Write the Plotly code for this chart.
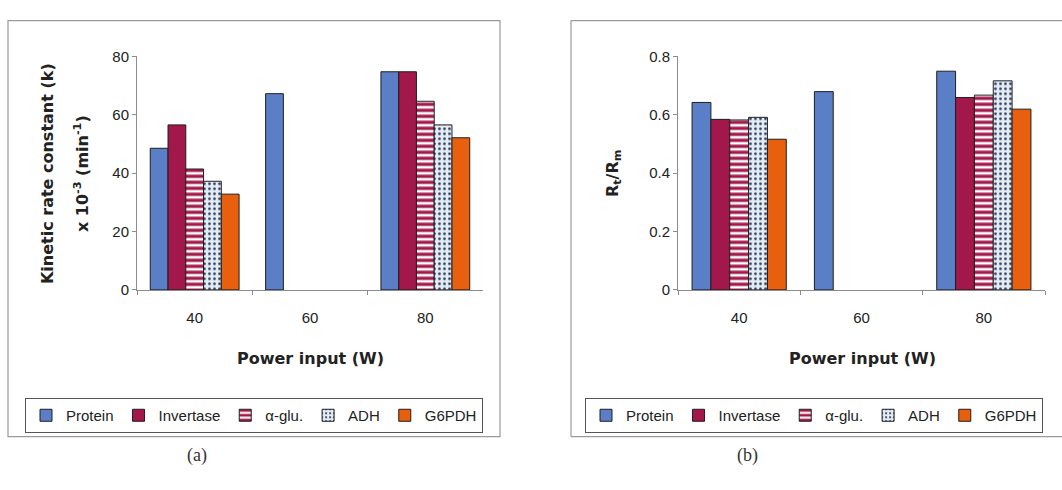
import plotly.graph_objects as go

# Power input categories (W)
power = ["40", "60", "80"]
series_names = ["Protein", "Invertase", "α-glu.", "ADH", "G6PDH"]

# (a) kinetic rate constant k x 10^-3 (min^-1)
k_protein = [48.5, 67.2, 74.7]
k_invertase = [56.5, None, 74.7]
k_aglu = [41.4, None, 64.6]
k_adh = [37.2, None, 56.5]
k_g6pdh = [32.8, None, 52.1]

# (b) Rt/Rm
r_protein = [0.642, 0.679, 0.749]
r_invertase = [0.584, None, 0.659]
r_aglu = [0.582, None, 0.667]
r_adh = [0.591, None, 0.716]
r_g6pdh = [0.516, None, 0.619]

# tick labels
k_ticks = [0, 20, 40, 60, 80]
r_ticks = [0, 0.2, 0.4, 0.6, 0.8]
r_ticktext = ["0", "0.2", "0.4", "0.6", "0.8"]

W, H = 1062, 490
FONT = "Liberation Sans, Arial, sans-serif"
TITLE_FONT = "DejaVu Sans, Liberation Sans, sans-serif"
TXT = "#222222"
OUTLINE = dict(color="#1e1e1e", width=1)

styles = [
    dict(color="#5b7fc7"),
    dict(color="#a3184a"),
    dict(color="#a3184a", pattern=dict(shape="-", fgcolor="#ffffff", bgcolor="#a3184a",
                                        size=6, solidity=0.45, fillmode="replace")),
    dict(color="#dfe9ef", pattern=dict(shape=".", fgcolor="#26335c", bgcolor="#e3ecf2",
                                        size=5, solidity=0.22, fillmode="replace")),
    dict(color="#e8600e"),
]

fig = go.Figure()

panel_a = [k_protein, k_invertase, k_aglu, k_adh, k_g6pdh]
panel_b = [r_protein, r_invertase, r_aglu, r_adh, r_g6pdh]

for name, vals, st in zip(series_names, panel_a, styles):
    fig.add_trace(go.Bar(x=power, y=vals, name=name, xaxis="x", yaxis="y",
                         marker=dict(line=OUTLINE, **st), legend="legend"))
for name, vals, st in zip(series_names, panel_b, styles):
    fig.add_trace(go.Bar(x=power, y=vals, name=name, xaxis="x2", yaxis="y2",
                         marker=dict(line=OUTLINE, **st), legend="legend2"))


def px(x):
    return x / W


def py(y):
    return 1 - y / H


axis_common = dict(showline=True, linecolor="#8c8c8c", linewidth=1, ticks="outside",
                   ticklen=4, tickcolor="#8c8c8c", showgrid=False, zeroline=False,
                   tickfont=dict(family=FONT, size=15, color=TXT))
xaxis_common = dict(type="category", tickson="boundaries", ticklabelstandoff=14,
                    **axis_common)
legend_common = dict(orientation="h", xanchor="left", yanchor="top",
                     bordercolor="#555555", borderwidth=1, bgcolor="rgba(0,0,0,0)",
                     font=dict(family=FONT, size=15, color=TXT), itemwidth=30,
                     tracegroupgap=0, traceorder="normal")

fig.update_layout(
    width=W, height=H, margin=dict(l=0, r=0, t=0, b=0),
    paper_bgcolor="#ffffff", plot_bgcolor="#ffffff",
    barmode="group", bargap=0.23, bargroupgap=0,
    font=dict(family=FONT, size=15, color=TXT),
    xaxis=dict(domain=[px(137), px(483)], anchor="y", **xaxis_common),
    yaxis=dict(domain=[py(291), py(49)], anchor="x", range=[0, 80],
               tickvals=k_ticks, **axis_common),
    xaxis2=dict(domain=[px(678), px(1045)], anchor="y2", **xaxis_common),
    yaxis2=dict(domain=[py(291), py(49)], anchor="x2", range=[0, 0.8],
                tickvals=r_ticks, ticktext=r_ticktext, **axis_common),
    legend=dict(x=px(25), y=py(403), **legend_common),
    legend2=dict(x=px(585), y=py(403), **legend_common),
    showlegend=True,
)

# Axis titles
title_font = dict(family=TITLE_FONT, size=16, color=TXT)
for xc in (310, 862):
    fig.add_annotation(text="<b>Power input (W)</b>", x=px(xc), y=py(362),
                       xref="paper", yref="paper", showarrow=False,
                       xanchor="center", yanchor="middle", font=title_font)
fig.add_annotation(text="<b>Kinetic rate constant (k)</b>", x=px(47), y=py(171),
                   xref="paper", yref="paper", showarrow=False, textangle=-90,
                   xanchor="center", yanchor="middle", font=title_font)
fig.add_annotation(text="<b>x 10<sup>-3</sup> (min<sup>-1</sup>)</b>", x=px(81), y=py(171),
                   xref="paper", yref="paper", showarrow=False, textangle=-90,
                   xanchor="center", yanchor="middle", font=title_font)
fig.add_annotation(text="<b>R<sub>t</sub>/R<sub>m</sub></b>", x=px(613), y=py(170),
                   xref="paper", yref="paper", showarrow=False, textangle=-90,
                   xanchor="center", yanchor="middle", font=title_font)

# Panel frames
frame = dict(color="#9a9a9a", width=1.2)
fig.add_shape(type="rect", xref="paper", yref="paper",
              x0=px(8), x1=px(500), y0=py(443), y1=py(12), line=frame)
for x0, y0, x1, y1 in [(571, 12, 1062, 12), (571, 12, 571, 443), (571, 443, 1062, 443)]:
    fig.add_shape(type="line", xref="paper", yref="paper",
                  x0=px(x0), y0=py(y0), x1=px(x1), y1=py(y1), line=frame)

# Panel captions
for label, xc in [("(a)", 197), ("(b)", 747)]:
    fig.add_annotation(text=label, x=px(xc), y=py(463), xref="paper", yref="paper",
                       showarrow=False, xanchor="center", yanchor="middle",
                       font=dict(family="Liberation Serif, Times New Roman, serif",
                                 size=18, color="#333333"))

fig.write_html("out.html")
